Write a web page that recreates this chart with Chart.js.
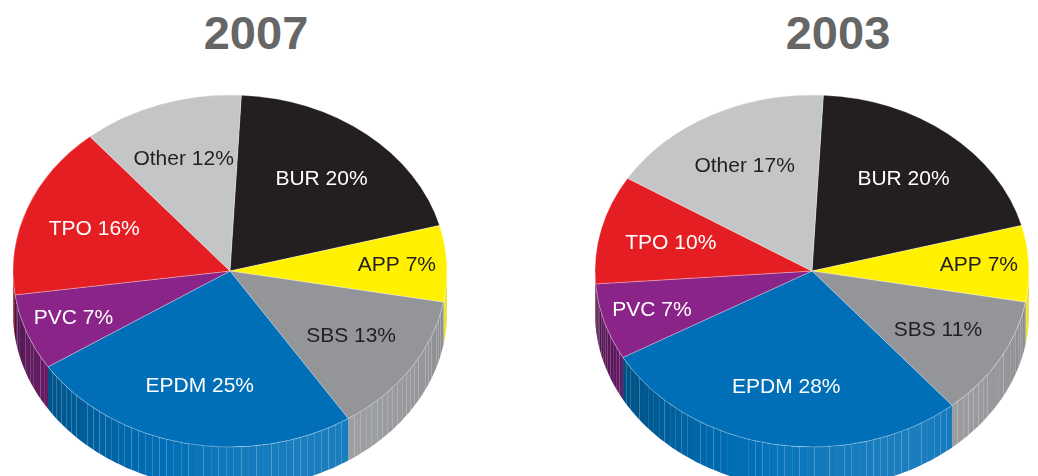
<!DOCTYPE html>
<html>
<head>
<meta charset="utf-8">
<title>Roofing market share 2007 / 2003</title>
<script src="https://cdn.jsdelivr.net/npm/chart.js@4.4.1/dist/chart.umd.min.js"></script>
<style>
    body { margin: 0; background: #fff; width: 1038px; height: 476px; overflow: hidden; position: relative; }
    .year { position: absolute; top: 9px; width: 200px; text-align: center; font: bold 47px/47px "Liberation Sans", Arial, sans-serif; color: #666666; }
    canvas { position: absolute; top: 0; }
</style>
</head>
<body>
<div class="year" id="title2007" style="left:156px"></div>
<div class="year" id="title2003" style="left:738px"></div>
<canvas id="pie2007" width="519" height="476" style="left:0"></canvas>
<canvas id="pie2003" width="519" height="476" style="left:519px"></canvas>

<script>
// datos
var categories = ['BUR', 'APP', 'SBS', 'EPDM', 'PVC', 'TPO', 'Other'];
var share2007 = [20, 7, 13, 25, 7, 16, 12];
var share2003 = [20, 7, 11, 28, 7, 10, 17];
var years = ['2007', '2003'];

var sliceColors = ['#231f20', '#fff100', '#939598', '#006fb7', '#8b2489', '#e51e24', '#c4c5c7'];

function hexToRgb(hex) {
    var n = parseInt(hex.slice(1), 16);
    return [(n >> 16) & 255, (n >> 8) & 255, n & 255];
}

function shade(hex, b) {
    var c = hexToRgb(hex).map(function (v) {
        var r = b <= 1 ? v * b : v + (255 - v) * (b - 1);
        return Math.round(Math.max(0, Math.min(255, r)));
    });
    return 'rgb(' + c.join(',') + ')';
}

function isLight(hex) {
    var c = hexToRgb(hex);
    return (0.299 * c[0] + 0.587 * c[1] + 0.114 * c[2]) / 255 > 0.5;
}

// pie "3D": pared lateral + cara superior aplastada en elipse
var pie3d = {
    id: 'pie3d',
    beforeDatasetsDraw: function (chart, args, opts) {
        var ctx = chart.ctx;
        var meta = chart.getDatasetMeta(0);
        var colors = chart.data.datasets[0].backgroundColor;
        var step = 2 * Math.PI / 180;

        meta.data.forEach(function (arc, i) {
            var s = Math.max(arc.startAngle, 0);
            var e = Math.min(arc.endAngle, Math.PI);
            if (e <= s) return;
            var n = Math.max(1, Math.ceil((e - s) / step));
            for (var k = 0; k < n; k++) {
                var t0 = s + (e - s) * k / n;
                var t1 = s + (e - s) * (k + 1) / n;
                var tm = (t0 + t1) / 2;
                var b = 0.68 + 0.42 * Math.cos(tm - 1.15);
                ctx.beginPath();
                ctx.ellipse(opts.cx, opts.cy, opts.rx, opts.ry, 0, t0, t1, false);
                ctx.ellipse(opts.cx, opts.cy + opts.depth, opts.rx, opts.ry, 0, t1, t0, true);
                ctx.closePath();
                ctx.fillStyle = shade(colors[i], b);
                ctx.fill();
            }
        });

        var a = meta.data[0];
        ctx.save();
        ctx.translate(opts.cx, opts.cy);
        ctx.scale(opts.rx / a.outerRadius, opts.ry / a.outerRadius);
        ctx.translate(-a.x, -a.y);
    },
    afterDatasetsDraw: function (chart, args, opts) {
        var ctx = chart.ctx;
        ctx.restore();

        var meta = chart.getDatasetMeta(0);
        var ds = chart.data.datasets[0];
        ctx.save();
        ctx.font = opts.fontSize + 'px ' + opts.fontFamily;
        ctx.textAlign = 'center';
        ctx.textBaseline = 'middle';
        meta.data.forEach(function (arc, i) {
            var v = ds.data[i];
            var mid = (arc.startAngle + arc.endAngle) / 2;
            var f = v < 10 ? 0.77 : 0.67;
            var x = opts.cx + opts.rx * f * Math.cos(mid);
            var y = opts.cy + opts.ry * f * Math.sin(mid);
            ctx.fillStyle = isLight(ds.backgroundColor[i]) ? '#231f20' : '#ffffff';
            ctx.fillText(chart.data.labels[i] + ' ' + v + '%', x, y);
        });
        ctx.restore();
    }
};

function makePie(canvasId, values, cx) {
    var ctx = document.getElementById(canvasId).getContext('2d');
    return new Chart(ctx, {
        type: 'pie',
        data: {
            labels: categories,
            datasets: [{
                data: values,
                backgroundColor: sliceColors,
                borderColor: 'rgba(255,255,255,0.45)',
                borderWidth: 0.8,
                clip: false
            }]
        },
        options: {
            responsive: false,
            animation: false,
            events: [],
            rotation: 3,
            plugins: {
                legend: { display: false },
                tooltip: { enabled: false },
                pie3d: {
                    cx: cx, cy: 271, rx: 217, ry: 176, depth: 42,
                    fontSize: 21,
                    fontFamily: '"Liberation Sans", Arial, sans-serif'
                }
            }
        },
        plugins: [pie3d]
    });
}

document.getElementById('title2007').textContent = years[0];
document.getElementById('title2003').textContent = years[1];

makePie('pie2007', share2007, 230);
makePie('pie2003', share2003, 812 - 519);
</script>
</body>
</html>
